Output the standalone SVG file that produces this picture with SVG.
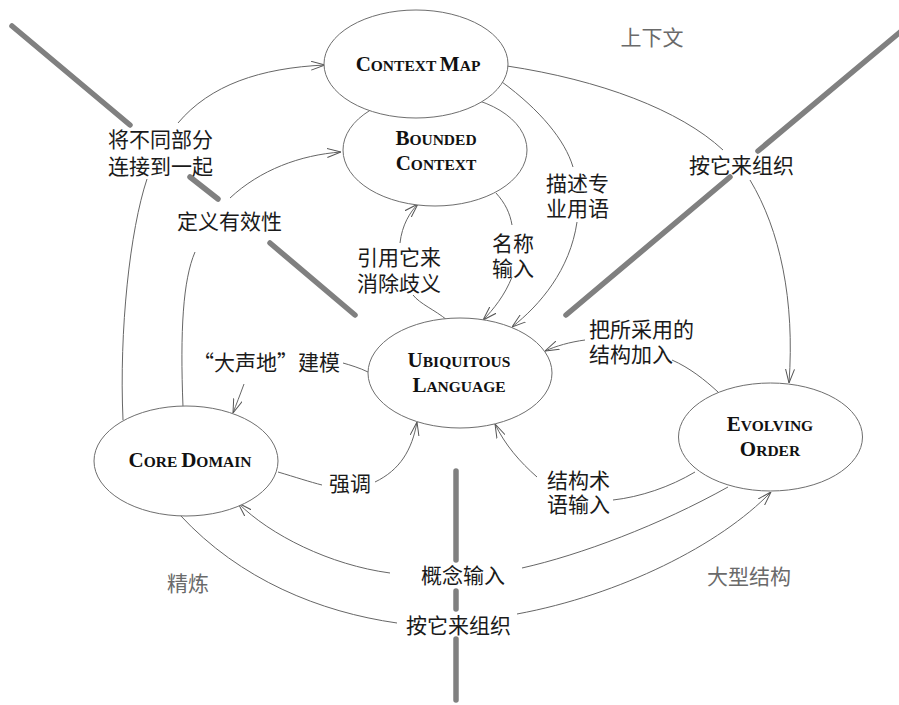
<svg xmlns="http://www.w3.org/2000/svg" width="899" height="705" viewBox="0 0 899 705">
<style>
.bg{fill:#fff}
.node{fill:#fff;stroke:#6e6e6e;stroke-width:1}
.nt{font-family:"Liberation Serif",serif;font-weight:bold;fill:#111;text-anchor:middle}
.B{font-size:21px}
.S{font-size:15.5px}
.lb{font-family:"Noto Sans CJK SC",sans-serif;font-size:21px;fill:#1a1a1a}
.gl{font-family:"Noto Sans CJK SC",sans-serif;font-size:21px;fill:#6a6a6a;text-anchor:middle}
.c{fill:none;stroke:#666;stroke-width:1}
.a{marker-end:url(#arr)}
.thick{stroke:#808080;stroke-width:5.5;stroke-linecap:round;fill:none}
</style>
<defs>
<marker id="arr" viewBox="0 0 14 10" refX="14" refY="5" markerWidth="14" markerHeight="10" orient="auto" markerUnits="userSpaceOnUse">
<path d="M0,0.5 L14,5 L0,9.5" fill="none" stroke="#555" stroke-width="1"/>
</marker>
</defs>
<rect class="bg" x="0" y="0" width="899" height="705"/>
<g id="dividers">
<line class="thick" x1="12" y1="26" x2="130" y2="125"/>
<line class="thick" x1="190" y1="177" x2="218" y2="199"/>
<line class="thick" x1="270" y1="243" x2="355" y2="315"/>
<line class="thick" x1="905" y1="28" x2="758" y2="151"/>
<line class="thick" x1="730" y1="177" x2="566" y2="315"/>
<line class="thick" x1="456" y1="471" x2="456" y2="560"/>
<line class="thick" x1="456" y1="591" x2="456" y2="609"/>
<line class="thick" x1="456" y1="639" x2="456" y2="700"/>
</g>
<g id="connectors">
<path class="c" d="M123,420 C119,330 130,230 147,179"/>
<path class="c a" d="M178,123 C210,85 260,68 325,65"/>
<path class="c" d="M183,407 C180,330 183,280 195,252"/>
<path class="c a" d="M230,198 C260,170 300,155 341,152"/>
<path class="c" d="M447,320 C435,310 420,304 413,295"/>
<path class="c a" d="M400,243 C402,225 410,212 418,204"/>
<path class="c" d="M496,193 C505,203 510,213 512,225"/>
<path class="c a" d="M512,277 C505,295 493,310 483,320"/>
<path class="c" d="M502,82 C540,110 565,140 573,167"/>
<path class="c a" d="M577,222 C570,270 540,305 512,327"/>
<path class="c" d="M507,66 C600,80 680,110 723,150"/>
<path class="c a" d="M750,180 C780,230 795,300 789,383"/>
<path class="c" d="M718,392 C705,380 690,368 672,360"/>
<path class="c a" d="M585,340 C570,342 556,346 545,351"/>
<path class="c" d="M368,372 C360,368 350,365 343,363"/>
<path class="c a" d="M244,384 C240,395 236,405 233,413"/>
<path class="c" d="M278,472 C295,477 310,482 322,485"/>
<path class="c a" d="M375,482 C400,470 412,450 417,422"/>
<path class="c" d="M695,472 C670,487 640,497 613,500"/>
<path class="c a" d="M537,477 C520,462 505,445 495,424"/>
<path class="c" d="M728,487 C660,525 580,555 522,568"/>
<path class="c a" d="M390,573 C330,565 270,535 238,503"/>
<path class="c" d="M180,515 C240,580 320,612 397,623"/>
<path class="c a" d="M517,614 C620,595 720,545 771,492"/>
</g>
<g id="bounded-context">
<ellipse class="node" cx="435" cy="150" rx="92" ry="56"/>
<text class="nt" x="436" y="145"><tspan class="B">B</tspan><tspan class="S">OUNDED</tspan></text>
<text class="nt" x="436" y="170"><tspan class="B">C</tspan><tspan class="S">ONTEXT</tspan></text>
</g>
<g id="context-map">
<ellipse class="node" cx="416" cy="64" rx="92" ry="54"/>
<text class="nt" x="418" y="71"><tspan class="B">C</tspan><tspan class="S">ONTEXT </tspan><tspan class="B">M</tspan><tspan class="S">AP</tspan></text>
</g>
<g id="ubiquitous-language">
<ellipse class="node" cx="460" cy="373" rx="92" ry="55"/>
<text class="nt" x="459" y="367"><tspan class="B">U</tspan><tspan class="S">BIQUITOUS</tspan></text>
<text class="nt" x="459" y="392"><tspan class="B">L</tspan><tspan class="S">ANGUAGE</tspan></text>
</g>
<g id="core-domain">
<ellipse class="node" cx="186" cy="461" rx="92" ry="55"/>
<text class="nt" x="190" y="467"><tspan class="B">C</tspan><tspan class="S">ORE </tspan><tspan class="B">D</tspan><tspan class="S">OMAIN</tspan></text>
</g>
<g id="evolving-order">
<ellipse class="node" cx="770.5" cy="437" rx="92" ry="54"/>
<text class="nt" x="770" y="431"><tspan class="B">E</tspan><tspan class="S">VOLVING</tspan></text>
<text class="nt" x="770" y="456"><tspan class="B">O</tspan><tspan class="S">RDER</tspan></text>
</g>
<g id="labels">
<text class="lb" x="108" y="147">将不同部分<tspan x="108" dy="27">连接到一起</tspan></text>
<text class="lb" x="177" y="229">定义有效性</text>
<text class="lb" x="357" y="265">引用它来<tspan x="357" dy="26">消除歧义</tspan></text>
<text class="lb" x="492" y="251">名称<tspan x="492" dy="25">输入</tspan></text>
<text class="lb" x="546" y="191">描述专<tspan x="546" dy="25">业用语</tspan></text>
<text class="lb" x="689" y="173">按它来组织</text>
<text class="lb" x="589" y="337">把所采用的<tspan x="589" dy="25">结构加入</tspan></text>
<text class="lb" x="193" y="370">“大声地”建模</text>
<text class="lb" x="329" y="491">强调</text>
<text class="lb" x="547" y="488">结构术<tspan x="547" dy="24">语输入</tspan></text>
<text class="lb" x="421" y="583">概念输入</text>
<text class="lb" x="406" y="633">按它来组织</text>
<text class="gl" x="652" y="45">上下文</text>
<text class="gl" x="188" y="591">精炼</text>
<text class="gl" x="749" y="584">大型结构</text>
</g>
</svg>
